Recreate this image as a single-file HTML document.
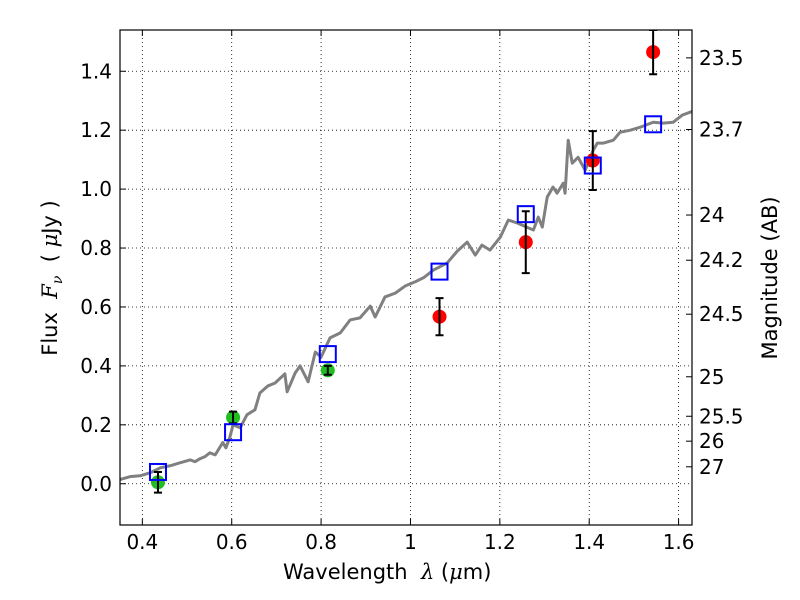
<!DOCTYPE html>
<html><head><meta charset="utf-8"><style>
body{margin:0;background:#fff}
svg{display:block;font-family:"DejaVu Sans","Liberation Sans",sans-serif}
</style></head><body>
<svg id="c" width="800" height="600"></svg>
<script>
const specLam=[0.350,0.372,0.395,0.417,0.440,0.462,0.484,0.507,0.518,0.529,0.540,0.551,0.563,0.574,0.580,0.587,0.596,0.603,0.619,0.634,0.652,0.663,0.681,0.697,0.719,0.724,0.742,0.753,0.771,0.787,0.800,0.820,0.843,0.865,0.887,0.910,0.921,0.943,0.966,0.988,1.010,1.030,1.051,1.082,1.105,1.127,1.145,1.160,1.178,1.201,1.219,1.239,1.275,1.286,1.295,1.306,1.319,1.328,1.342,1.346,1.353,1.362,1.375,1.391,1.409,1.418,1.431,1.454,1.469,1.492,1.514,1.543,1.566,1.588,1.608,1.631];
const specFlux=[0.014,0.024,0.027,0.037,0.054,0.061,0.071,0.081,0.075,0.085,0.092,0.105,0.098,0.125,0.140,0.122,0.159,0.200,0.190,0.234,0.251,0.308,0.332,0.342,0.373,0.312,0.376,0.400,0.346,0.447,0.430,0.495,0.512,0.556,0.563,0.603,0.566,0.634,0.647,0.671,0.685,0.700,0.725,0.749,0.790,0.820,0.776,0.810,0.793,0.837,0.895,0.885,0.861,0.905,0.871,0.973,1.007,0.986,1.020,0.986,1.166,1.088,1.108,1.064,1.132,1.156,1.156,1.166,1.193,1.200,1.210,1.227,1.224,1.227,1.251,1.264];
const greenLam=[0.435,0.603,0.815];
const greenFlux=[0.005,0.225,0.385];
const greenErr=[0.035,0.02,0.015];
const redLam=[1.065,1.258,1.408,1.543];
const redFlux=[0.567,0.82,1.097,1.465];
const redErr=[0.063,0.105,0.1,0.075];
const modelLam=[0.435,0.603,0.815,1.065,1.258,1.408,1.543];
const modelFlux=[0.04,0.175,0.44,0.72,0.915,1.08,1.22];
const xTicks=[0.4,0.6,0.8,1.0,1.2,1.4,1.6];
const xTickLabels=["0.4","0.6","0.8","1","1.2","1.4","1.6"];
const yTicks=[0,0.2,0.4,0.6,0.8,1.0,1.2,1.4];
const yTickLabels=["0.0","0.2","0.4","0.6","0.8","1.0","1.2","1.4"];
const magTicks=[23.5,23.7,24,24.2,24.5,25,25.5,26,27];
const magTickLabels=["23.5","23.7","24","24.2","24.5","25","25.5","26","27"];

const L=120,R=692,T=30,B=525,xmin=0.35,xmax=1.63,ymin=-0.14,ymax=1.54;
const X=v=>L+(v-xmin)/(xmax-xmin)*(R-L);
const Y=v=>B-(v-ymin)/(ymax-ymin)*(B-T);
const NS="http://www.w3.org/2000/svg";
const svg=document.getElementById('c');
function mk(tag,at,parent){const e=document.createElementNS(NS,tag);for(const k in at)e.setAttribute(k,at[k]);(parent||svg).appendChild(e);return e;}

const defs=mk('defs',{});
const cp=mk('clipPath',{id:'clip'},defs);mk('rect',{x:L,y:T,width:R-L,height:B-T},cp);

xTicks.forEach(v=>{const g=mk('line',{x1:X(v),x2:X(v),y1:T,y2:B,stroke:'#000','stroke-width':0.8,'stroke-dasharray':'1,3'});

});
yTicks.forEach(v=>{const g=mk('line',{x1:L,x2:R,y1:Y(v),y2:Y(v),stroke:'#000','stroke-width':0.8,'stroke-dasharray':'1,3'});

});

const pg=mk('g',{'clip-path':'url(#clip)'});
const sp=mk('polyline',{points:specLam.map((l,i)=>X(l)+','+Y(specFlux[i])).join(' '),fill:'none',stroke:'#808080','stroke-width':3,'stroke-linejoin':'round'},pg);


function pts(lams,fl,er,col,name){
 lams.forEach((l,i)=>{
  const x=X(l);
  const c=mk('circle',{cx:x,cy:Y(fl[i]),r:7,fill:col,stroke:'none'},pg);
  
  
  const y1=Y(fl[i]+er[i]),y2=Y(fl[i]-er[i]);
  const e=mk('path',{d:`M${x},${y1}V${y2}M${x-4},${y1}H${x+4}M${x-4},${y2}H${x+4}`,stroke:'#000','stroke-width':2,fill:'none'},pg);
  
  
 });
}
pts(greenLam,greenFlux,greenErr,'#1fbf1f','hst-flux-point');
pts(redLam,redFlux,redErr,'#ff0000','ir-flux-point');
modelLam.forEach((l,i)=>{const r=mk('rect',{x:X(l)-8,y:Y(modelFlux[i])-8,width:16,height:16,fill:'none',stroke:'#0000ff','stroke-width':2},pg);

});

const fr=mk('rect',{x:L,y:T,width:R-L,height:B-T,fill:'none',stroke:'#000','stroke-width':1.2});



xTicks.forEach((v,i)=>{
 mk('line',{x1:X(v),x2:X(v),y1:B,y2:B-6,stroke:'#000'});mk('line',{x1:X(v),x2:X(v),y1:T,y2:T+6,stroke:'#000'});
 const t=mk('text',{x:X(v),y:B+24,'font-size':20,'text-anchor':'middle'});t.textContent=xTickLabels[i];
 
 
});
yTicks.forEach((v,i)=>{
 mk('line',{x1:L,x2:L+6,y1:Y(v),y2:Y(v),stroke:'#000'});
 const t=mk('text',{x:L-8,y:Y(v)+7,'font-size':20,'text-anchor':'end'});t.textContent=yTickLabels[i];
 
 
});
magTicks.forEach((m,i)=>{
 const y=Y(Math.pow(10,(23.9-m)/2.5));
 mk('line',{x1:R,x2:R-6,y1:y,y2:y,stroke:'#000'});
 const t=mk('text',{x:R+7,y:y+7,'font-size':20,'text-anchor':'start'});t.textContent=magTickLabels[i];
 
 
});
</script>
<div style="position:absolute;left:0;top:0;width:800px;height:600px;pointer-events:none">
<div style="position:absolute;left:283px;top:560px;font:21px 'DejaVu Sans','Liberation Sans',sans-serif;white-space:nowrap">Wavelength&nbsp; <i style="font-family:'DejaVu Serif',serif">λ</i> (<i style="font-family:'DejaVu Serif',serif">μ</i>m)</div>
<div style="position:absolute;left:52px;top:278px;transform:translate(-50%,-50%) rotate(-90deg);font:21px 'DejaVu Sans','Liberation Sans',sans-serif;white-space:nowrap">Flux&nbsp; <i style="font-family:'DejaVu Serif',serif">F<sub style="font-size:14px">ν</sub></i>&nbsp; ( <i style="font-family:'DejaVu Serif',serif">μ</i>Jy )</div>
<div style="position:absolute;left:770px;top:278px;transform:translate(-50%,-50%) rotate(-90deg);font:21px 'DejaVu Sans','Liberation Sans',sans-serif;white-space:nowrap">Magnitude (AB)</div>
</div>
</body></html>
